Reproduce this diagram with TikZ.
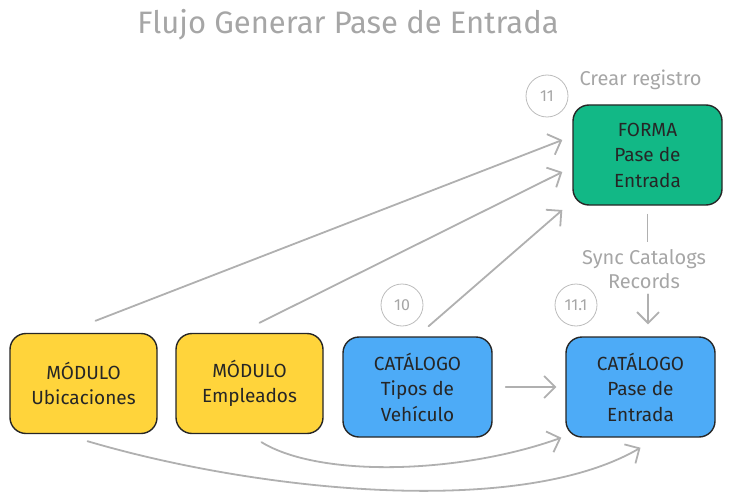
\documentclass[tikz,border=0pt]{standalone}
\usepackage{fontspec}
\setmainfont{Fira Sans}
\usetikzlibrary{arrows.meta}
\definecolor{exgreen}{HTML}{12B886}
\definecolor{exyellow}{HTML}{FFD43B}
\definecolor{exblue}{HTML}{4DABF7}
\definecolor{exgray}{HTML}{B0B0B0}
\definecolor{txgray}{HTML}{A6A6A6}
\tikzset{
  box/.style={draw=black!85, line width=1.4pt, rounded corners=16pt, minimum width=147pt, minimum height=100pt, align=center, font=\fontsize{19}{25.5}\selectfont, text=black!85},
  stepnum/.style={circle, draw=exgray!85, line width=0.8pt, minimum size=42pt, inner sep=0pt, text=txgray, font=\fontsize{16}{18}\selectfont},
  lbl/.style={text=txgray, font=\fontsize{20}{24}\selectfont, align=center},
  flow/.style={draw=exgray, line width=1.8pt, line cap=round, -{Straight Barb[length=11pt,width=22pt,line width=1.8pt]}},
}
\begin{document}
\begin{tikzpicture}[x=1pt,y=-1pt]
\useasboundingbox (0,0) rectangle (733,500);
\node[lbl, font=\fontsize{31}{34}\selectfont] (title) at (348,25) {Flujo Generar Pase de Entrada};
\node[box, fill=exgreen, minimum width=149pt] (forma) at (647.5,155) {FORMA\\Pase de\\Entrada};
\node[stepnum] (n11) at (547,96) {11};
\node[lbl, anchor=west] (crear) at (576,80) {Crear registro};
\node[box, fill=exyellow] (ubic) at (83.5,383.5) {MÓDULO\\Ubicaciones};
\node[box, fill=exyellow] (empl) at (249.5,383.5) {MÓDULO\\Empleados};
\node[box, fill=exblue, minimum width=149pt] (tipos) at (417.5,387) {CATÁLOGO\\Tipos de\\Vehículo};
\node[box, fill=exblue, minimum width=149pt] (pase) at (640.5,387) {CATÁLOGO\\Pase de\\Entrada};
\node[stepnum] (n10) at (402,305) {10};
\node[stepnum] (n111) at (576,305) {11.1};
\node[lbl] (sync) at (644,269) {Sync Catalogs\\Records};
% connectors
\draw[flow] ([xshift=12pt,yshift=12pt]ubic.north) -- ([xshift=-10pt,yshift=15pt]forma.west);
\draw[flow] ([xshift=10pt,yshift=10pt]empl.north) -- ([xshift=-10pt,yshift=-17pt]forma.west);
\draw[flow] ([xshift=11pt,yshift=10pt]tipos.north) -- ([xshift=-10pt,yshift=-55pt]forma.west);
\draw[flow] ([xshift=13pt]tipos.east) -- ([xshift=-9pt]pase.west);
\draw[draw=exgray, line width=1.8pt] ([yshift=-8pt]forma.south) -- ([yshift=-36pt]forma.south);
\draw[flow] ([xshift=7.5pt,yshift=42pt]pase.north) -- ([xshift=7.5pt,yshift=12pt]pase.north);
\draw[flow] ([xshift=12pt,yshift=-8pt]empl.south) .. controls (320,478) and (460,474) .. ([xshift=-4pt]pase.south west);
\draw[flow] ([xshift=4pt,yshift=-7pt]ubic.south) .. controls (260,492) and (520,518) .. ([yshift=-10pt]pase.south);
\end{tikzpicture}
\end{document}
